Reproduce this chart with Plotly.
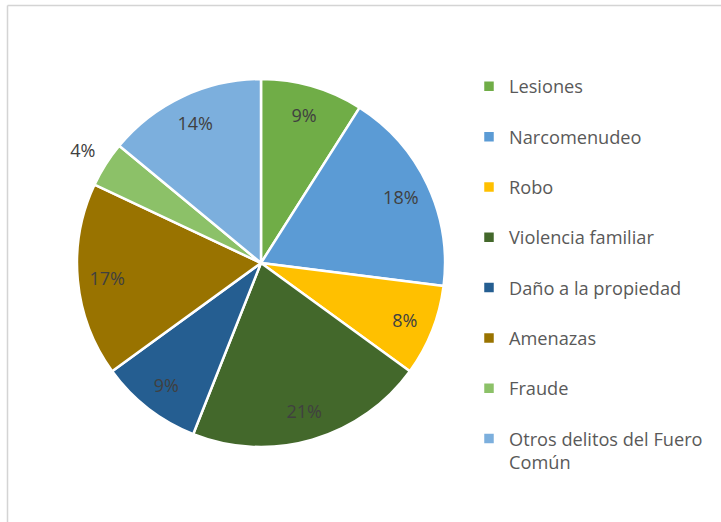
import plotly.graph_objects as go

categories = ["Lesiones", "Narcomenudeo", "Robo", "Violencia familiar",
              "Daño a la propiedad", "Amenazas", "Fraude",
              "Otros delitos del Fuero Común"]
values = [9, 18, 8, 21, 9, 17, 4, 14]
colors = ["#70AD47", "#5B9BD5", "#FFC000", "#43682B",
          "#255E91", "#997300", "#8CC168", "#7CAFDD"]

W, H = 721, 522
FONT = "Open Sans"
LABEL_FONT = dict(family=FONT, size=18, color="#404040")

# legend names: wrap long name, pad single-line names to keep even spacing
def legend_name(s):
    if s == "Otros delitos del Fuero Común":
        return "Otros delitos del Fuero<br>Común"
    return s + "<br> "

legend_labels = [legend_name(c) for c in categories]

# pie geometry (pixels) -> paper domain
cx, cy, R = 261, 263, 184
def domain(radius):
    return dict(x=[(cx - radius) / W, (cx + radius) / W],
                y=[(H - cy - radius) / H, (H - cy + radius) / H])

fig = go.Figure()

fig.add_trace(go.Pie(
    labels=legend_labels,
    values=values,
    sort=False,
    direction="clockwise",
    rotation=0,
    marker=dict(colors=colors, line=dict(color="white", width=2.5)),
    textinfo="none",
    domain=domain(R),
    hoverinfo="label+percent",
    showlegend=True,
))

clear = ["rgba(0,0,0,0)"] * len(values)
small = [v < 5 for v in values]

# transparent ring: percentage labels inside the larger slices
fig.add_trace(go.Pie(
    labels=categories,
    values=values,
    sort=False,
    direction="clockwise",
    rotation=0,
    hole=0.68,
    marker=dict(colors=clear, line=dict(width=0)),
    texttemplate=["" if s else "%{percent:.0%}" for s in small],
    textposition="inside",
    insidetextorientation="horizontal",
    insidetextfont=LABEL_FONT,
    domain=domain(R),
    hoverinfo="skip",
    showlegend=False,
))

# wider transparent ring: labels of the small slices, outside the pie
fig.add_trace(go.Pie(
    labels=categories,
    values=values,
    sort=False,
    direction="clockwise",
    rotation=0,
    hole=0.7,
    marker=dict(colors=clear, line=dict(width=0)),
    texttemplate=["%{percent:.0%}" if s else "" for s in small],
    textposition="inside",
    insidetextorientation="horizontal",
    insidetextfont=LABEL_FONT,
    domain=domain(R * 1.29),
    hoverinfo="skip",
    showlegend=False,
))

fig.update_layout(
    width=W, height=H,
    margin=dict(l=0, r=0, t=0, b=0),
    paper_bgcolor="white",
    plot_bgcolor="white",
    font=dict(family=FONT, color="#595959"),
    legend=dict(
        x=469 / W, xanchor="left",
        y=(H - 68) / H, yanchor="top",
        font=dict(family=FONT, size=18.2, color="#595959"),
        valign="top",
        bgcolor="rgba(0,0,0,0)",
        traceorder="normal",
    ),
    shapes=[
        dict(type="line", xref="paper", yref="paper",
             x0=7.5 / W, x1=1.01, y0=1 - 5.5 / H, y1=1 - 5.5 / H,
             line=dict(color="#D4D4D4", width=1.5)),
        dict(type="line", xref="paper", yref="paper",
             x0=7.5 / W, x1=7.5 / W, y0=-0.01, y1=1 - 5.5 / H,
             line=dict(color="#D4D4D4", width=1.5)),
    ],
)

fig.write_html(
    "out.html",
    config={"displayModeBar": False},
    post_script="document.body.style.margin='0px';document.body.style.overflow='hidden';",
)
